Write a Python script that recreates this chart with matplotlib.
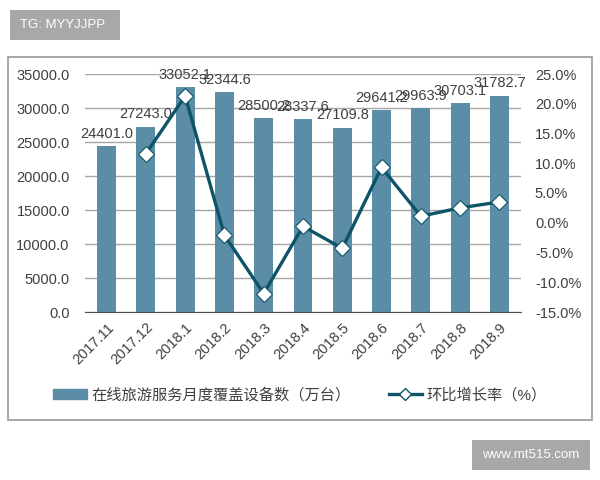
import matplotlib.pyplot as plt
from matplotlib.patches import Rectangle
from matplotlib.lines import Line2D

plt.rcParams['font.family'] = ['Liberation Sans', 'Noto Sans CJK SC', 'DejaVu Sans']

months = ["2017.11", "2017.12", "2018.1", "2018.2", "2018.3", "2018.4",
          "2018.5", "2018.6", "2018.7", "2018.8", "2018.9"]
devices = [24401.0, 27243.0, 33052.1, 32344.6, 28500.2, 28337.6,
           27109.8, 29641.2, 29963.9, 30703.1, 31782.7]
# month-on-month growth, no value for the first month
growth_x = months[1:]
growth = [11.6, 21.3, -2.1, -11.9, -0.6, -4.3, 9.3, 1.1, 2.5, 3.5]

bar_label = "在线旅游服务月度覆盖设备数（万台）"
line_label = "环比增长率（%）"

BAR_C = "#5b8ea6"
LINE_C = "#0e5468"
TXT_C = "#404040"


def main():
    fig = plt.figure(figsize=(6, 4.8), dpi=100)

    # outer frame
    fig.patches.append(Rectangle((8 / 600, 1 - 420 / 480), 584 / 600, 363 / 480,
                                 transform=fig.transFigure, fill=False,
                                 edgecolor="#9a9a9a", linewidth=1.2))
    # top tag box
    fig.patches.append(Rectangle((10 / 600, 1 - 40 / 480), 110 / 600, 30 / 480,
                                 transform=fig.transFigure, facecolor="#a8a8a8",
                                 edgecolor="none"))
    fig.text(20 / 600, 1 - 25 / 480, "TG: MYYJJPP", color="white", fontsize=9.5,
             va="center", ha="left")
    # watermark box
    fig.patches.append(Rectangle((472 / 600, 1 - 470 / 480), 118 / 600, 30 / 480,
                                 transform=fig.transFigure, facecolor="#a8a8a8",
                                 edgecolor="none"))
    fig.text(531 / 600, 1 - 455 / 480, "www.mt515.com", color="white", fontsize=9.5,
             va="center", ha="center")

    ax = fig.add_axes([85 / 600, 1 - 312 / 480, 436 / 600, 238 / 480])
    x = range(len(months))
    ax.bar(x, devices, width=0.48, color=BAR_C, zorder=2)
    for i, v in enumerate(devices):
        ax.annotate(f"{v:.1f}", (i, v), xytext=(0, 4), textcoords="offset points",
                    ha="center", va="bottom", fontsize=10.5, color=TXT_C, zorder=5)

    ax.set_ylim(0, 35000)
    ax.set_xlim(-0.55, len(months) - 0.45)
    ax.set_yticks(range(0, 35001, 5000))
    ax.set_yticklabels([f"{t:.1f}" for t in range(0, 35001, 5000)])
    ax.grid(axis="y", color="#a6a6a6", linewidth=1, zorder=0)
    ax.set_axisbelow(True)
    for s in ["top", "right", "left"]:
        ax.spines[s].set_visible(False)
    ax.spines["bottom"].set_color("#505050")
    ax.tick_params(axis="both", length=0, labelsize=10.5, colors=TXT_C)
    ax.tick_params(axis="y", pad=11)
    ax.tick_params(axis="x", pad=6)
    ax.set_xticks(list(x))
    ax.set_xticklabels(months, rotation=45, ha="right", rotation_mode="anchor")

    ax2 = ax.twinx()
    ax2.plot([months.index(m) for m in growth_x], growth, color=LINE_C, linewidth=2.4,
             marker="D", markersize=8.5, markerfacecolor="white",
             markeredgecolor=LINE_C, markeredgewidth=0.8, zorder=4)
    ax2.set_ylim(-15, 25)
    ax2.set_yticks(range(-15, 26, 5))
    ax2.set_yticklabels([f"{t:.1f}%" for t in range(-15, 26, 5)])
    for s in ax2.spines.values():
        s.set_visible(False)
    ax2.tick_params(axis="y", length=0, labelsize=10.5, colors=TXT_C, pad=10)

    handles = [Rectangle((0, 0), 1, 1, color=BAR_C),
               Line2D([], [], color=LINE_C, linewidth=2.4, marker="D", markersize=6,
                      markerfacecolor="white", markeredgecolor=LINE_C)]
    fig.legend(handles, [bar_label, line_label], loc="center",
               bbox_to_anchor=(300 / 600, 1 - 395 / 480), ncol=2, frameon=False,
               fontsize=11, labelcolor=TXT_C, handlelength=2.2, handletextpad=0.3,
               columnspacing=2.5)

    fig.savefig("out.png", dpi=100, facecolor="white")


if __name__ == "__main__":
    main()
